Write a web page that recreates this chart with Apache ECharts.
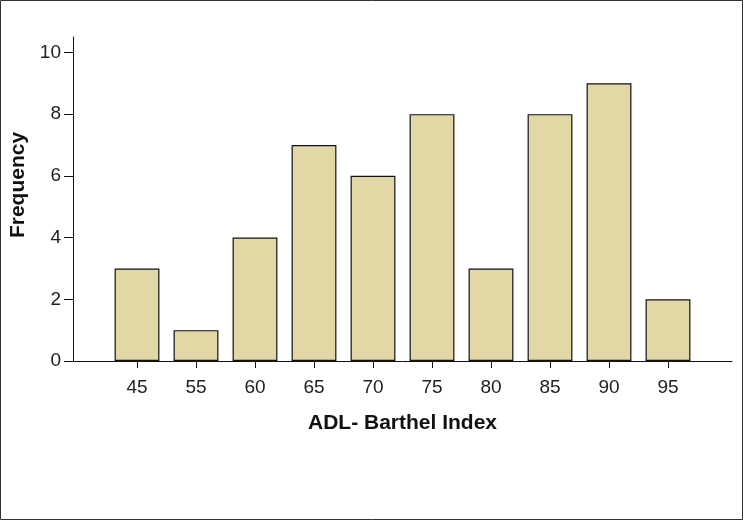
<!DOCTYPE html>
<html>
<head>
<meta charset="utf-8">
<script src="https://cdn.jsdelivr.net/npm/echarts@6/dist/echarts.min.js"></script>
<style>
  html, body { margin: 0; padding: 0; background: #fff; }
  #main { width: 743px; height: 520px; }
</style>
</head>
<body>
<div id="main"></div>
<script>
// ADL - Barthel Index histogram
var categories = ['45', '55', '60', '65', '70', '75', '80', '85', '90', '95']
var frequency = [3, 1, 4, 7, 6, 8, 3, 8, 9, 2]
var yTicks = [0, 2, 4, 6, 8, 10]

var font = 'Liberation Sans, Arial, sans-serif'
var chart = echarts.init(document.getElementById('main'))

var option = {
  backgroundColor: '#fff',
  animation: false,
  graphic: [
    {
      type: 'rect',
      shape: { x: 0.5, y: 0.5, width: 742, height: 519 },
      style: { fill: 'none', stroke: '#333', lineWidth: 1 }
    },
    {
      // y axis title, placed like the original (a bit above centre)
      type: 'text',
      x: 18,
      y: 185,
      rotation: Math.PI / 2,
      style: {
        text: 'Frequency',
        fill: '#111',
        font: 'bold 21px ' + font,
        textAlign: 'center',
        textVerticalAlign: 'middle'
      }
    }
  ],
  grid: [
    // bars
    { left: 107.5, right: 45.5, top: 37, bottom: 159 },
    // axis frame
    { left: 73, right: 11, top: 37, bottom: 159 }
  ],
  xAxis: [
    {
      type: 'category',
      gridIndex: 0,
      data: categories,
      axisLine: { show: false },
      axisTick: { show: true, alignWithLabel: true, length: 7, lineStyle: { color: '#111' } },
      axisLabel: { color: '#222', fontSize: 19, fontFamily: font, margin: 17 }
    },
    {
      type: 'value',
      gridIndex: 1,
      min: 0,
      max: 1,
      axisLine: { show: true, lineStyle: { color: '#111', width: 1 } },
      axisTick: { show: false },
      axisLabel: { show: false },
      splitLine: { show: false },
      name: 'ADL- Barthel Index',
      nameLocation: 'middle',
      nameGap: 52,
      nameTextStyle: { color: '#111', fontSize: 21, fontWeight: 'bold', fontFamily: font }
    }
  ],
  yAxis: [
    {
      type: 'value',
      gridIndex: 0,
      min: 0,
      max: 10.5,
      show: false
    },
    {
      type: 'value',
      gridIndex: 1,
      min: 0,
      max: 10.5,
      axisLine: { show: true, lineStyle: { color: '#111', width: 1 } },
      axisTick: { show: true, length: 9, customValues: yTicks, lineStyle: { color: '#111' } },
      axisLabel: { color: '#222', fontSize: 19, fontFamily: font, margin: 12, customValues: yTicks },
      splitLine: { show: false }
    }
  ],
  series: [
    {
      type: 'bar',
      xAxisIndex: 0,
      yAxisIndex: 0,
      data: frequency,
      barCategoryGap: '24%',
      itemStyle: { color: '#e2d8a5', borderColor: '#111', borderWidth: 1.2 }
    }
  ]
}

chart.setOption(option)
</script>
</body>
</html>
